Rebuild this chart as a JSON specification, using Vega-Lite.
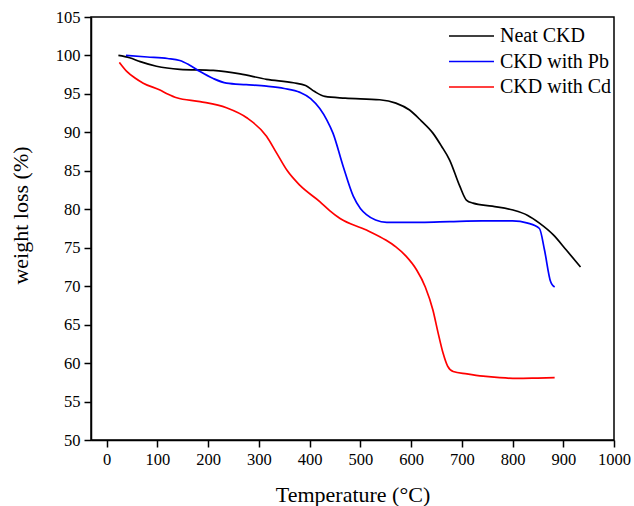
{
  "$schema": "https://vega.github.io/schema/vega-lite/v6.json",
  "width": 523,
  "height": 423,
  "autosize": {"type": "none"},
  "padding": {"left": 91, "top": 17, "right": 20, "bottom": 66},
  "background": "white",
  "config": {
    "font": "Liberation Serif",
    "view": {"stroke": "black", "strokeWidth": 1.5},
    "axis": {
      "grid": false,
      "domainColor": "black",
      "domainWidth": 1.5,
      "tickColor": "black",
      "tickWidth": 1.5,
      "tickSize": 7,
      "labelFont": "Liberation Serif",
      "labelFontSize": 16.5,
      "labelColor": "black",
      "titleFont": "Liberation Serif",
      "titleFontSize": 22,
      "titleFontWeight": "normal",
      "titleColor": "black"
    },
    "legend": {
      "labelFont": "Liberation Serif",
      "labelFontSize": 20,
      "labelColor": "black"
    }
  },
  "data": {
    "values": [
      {"s": "Neat CKD", "t": 23, "w": 100.0},
      {"s": "Neat CKD", "t": 45, "w": 99.7},
      {"s": "Neat CKD", "t": 66, "w": 99.2},
      {"s": "Neat CKD", "t": 98, "w": 98.6},
      {"s": "Neat CKD", "t": 144, "w": 98.2},
      {"s": "Neat CKD", "t": 210, "w": 98.05},
      {"s": "Neat CKD", "t": 263, "w": 97.6},
      {"s": "Neat CKD", "t": 315, "w": 96.9},
      {"s": "Neat CKD", "t": 368, "w": 96.45},
      {"s": "Neat CKD", "t": 392, "w": 96.1},
      {"s": "Neat CKD", "t": 410, "w": 95.3},
      {"s": "Neat CKD", "t": 430, "w": 94.67},
      {"s": "Neat CKD", "t": 470, "w": 94.45},
      {"s": "Neat CKD", "t": 538, "w": 94.24},
      {"s": "Neat CKD", "t": 570, "w": 93.8},
      {"s": "Neat CKD", "t": 597, "w": 92.9},
      {"s": "Neat CKD", "t": 620, "w": 91.5},
      {"s": "Neat CKD", "t": 643, "w": 89.9},
      {"s": "Neat CKD", "t": 660, "w": 88.2},
      {"s": "Neat CKD", "t": 676, "w": 86.4},
      {"s": "Neat CKD", "t": 696, "w": 83.0},
      {"s": "Neat CKD", "t": 709, "w": 81.2},
      {"s": "Neat CKD", "t": 722, "w": 80.8},
      {"s": "Neat CKD", "t": 760, "w": 80.4},
      {"s": "Neat CKD", "t": 801, "w": 79.9},
      {"s": "Neat CKD", "t": 830, "w": 79.2},
      {"s": "Neat CKD", "t": 853, "w": 78.2},
      {"s": "Neat CKD", "t": 880, "w": 76.7},
      {"s": "Neat CKD", "t": 906, "w": 74.7},
      {"s": "Neat CKD", "t": 934, "w": 72.5},
      {"s": "CKD with Pb", "t": 38, "w": 100.0},
      {"s": "CKD with Pb", "t": 80, "w": 99.8},
      {"s": "CKD with Pb", "t": 120, "w": 99.6},
      {"s": "CKD with Pb", "t": 144, "w": 99.35},
      {"s": "CKD with Pb", "t": 162, "w": 98.8},
      {"s": "CKD with Pb", "t": 184, "w": 97.9},
      {"s": "CKD with Pb", "t": 210, "w": 97.0},
      {"s": "CKD with Pb", "t": 236, "w": 96.4},
      {"s": "CKD with Pb", "t": 275, "w": 96.2},
      {"s": "CKD with Pb", "t": 315, "w": 96.0},
      {"s": "CKD with Pb", "t": 350, "w": 95.7},
      {"s": "CKD with Pb", "t": 381, "w": 95.2},
      {"s": "CKD with Pb", "t": 402, "w": 94.4},
      {"s": "CKD with Pb", "t": 420, "w": 93.1},
      {"s": "CKD with Pb", "t": 434, "w": 91.6},
      {"s": "CKD with Pb", "t": 446, "w": 89.9},
      {"s": "CKD with Pb", "t": 466, "w": 85.6},
      {"s": "CKD with Pb", "t": 486, "w": 81.7},
      {"s": "CKD with Pb", "t": 500, "w": 80.1},
      {"s": "CKD with Pb", "t": 512, "w": 79.3},
      {"s": "CKD with Pb", "t": 530, "w": 78.6},
      {"s": "CKD with Pb", "t": 552, "w": 78.3},
      {"s": "CKD with Pb", "t": 620, "w": 78.3},
      {"s": "CKD with Pb", "t": 676, "w": 78.4},
      {"s": "CKD with Pb", "t": 740, "w": 78.5},
      {"s": "CKD with Pb", "t": 800, "w": 78.5},
      {"s": "CKD with Pb", "t": 830, "w": 78.2},
      {"s": "CKD with Pb", "t": 853, "w": 77.5},
      {"s": "CKD with Pb", "t": 863, "w": 74.7},
      {"s": "CKD with Pb", "t": 875, "w": 70.6},
      {"s": "CKD with Pb", "t": 878, "w": 70.2},
      {"s": "CKD with Pb", "t": 883, "w": 69.9},
      {"s": "CKD with Cd", "t": 25, "w": 99.1},
      {"s": "CKD with Cd", "t": 40, "w": 97.9},
      {"s": "CKD with Cd", "t": 55, "w": 97.1},
      {"s": "CKD with Cd", "t": 72, "w": 96.4},
      {"s": "CKD with Cd", "t": 105, "w": 95.5},
      {"s": "CKD with Cd", "t": 120, "w": 95.0},
      {"s": "CKD with Cd", "t": 138, "w": 94.5},
      {"s": "CKD with Cd", "t": 184, "w": 94.0},
      {"s": "CKD with Cd", "t": 236, "w": 93.2},
      {"s": "CKD with Cd", "t": 276, "w": 91.9},
      {"s": "CKD with Cd", "t": 315, "w": 89.5},
      {"s": "CKD with Cd", "t": 335, "w": 87.3},
      {"s": "CKD with Cd", "t": 355, "w": 85.1},
      {"s": "CKD with Cd", "t": 381, "w": 83.1},
      {"s": "CKD with Cd", "t": 420, "w": 81.0},
      {"s": "CKD with Cd", "t": 440, "w": 79.8},
      {"s": "CKD with Cd", "t": 460, "w": 78.8},
      {"s": "CKD with Cd", "t": 512, "w": 77.3},
      {"s": "CKD with Cd", "t": 550, "w": 76.0},
      {"s": "CKD with Cd", "t": 570, "w": 75.1},
      {"s": "CKD with Cd", "t": 590, "w": 73.9},
      {"s": "CKD with Cd", "t": 611, "w": 72.1},
      {"s": "CKD with Cd", "t": 628, "w": 69.9},
      {"s": "CKD with Cd", "t": 643, "w": 66.9},
      {"s": "CKD with Cd", "t": 653, "w": 64.0},
      {"s": "CKD with Cd", "t": 663, "w": 61.3},
      {"s": "CKD with Cd", "t": 672, "w": 59.6},
      {"s": "CKD with Cd", "t": 683, "w": 58.9},
      {"s": "CKD with Cd", "t": 710, "w": 58.6},
      {"s": "CKD with Cd", "t": 742, "w": 58.3},
      {"s": "CKD with Cd", "t": 775, "w": 58.1},
      {"s": "CKD with Cd", "t": 808, "w": 58.0},
      {"s": "CKD with Cd", "t": 850, "w": 58.05},
      {"s": "CKD with Cd", "t": 883, "w": 58.1}
    ]
  },
  "mark": {"type": "line", "interpolate": "monotone", "strokeWidth": 1.7, "clip": true},
  "encoding": {
    "x": {
      "field": "t",
      "type": "quantitative",
      "scale": {"domain": [-31, 1000], "nice": false, "zero": false},
      "axis": {
        "values": [0, 100, 200, 300, 400, 500, 600, 700, 800, 900, 1000],
        "format": "d",
        "labelPadding": 4,
        "title": "Temperature (°C)",
        "titleY": 54,
        "titleBaseline": "middle",
        "labelFlush": false
      }
    },
    "y": {
      "field": "w",
      "type": "quantitative",
      "scale": {"domain": [50, 105], "nice": false, "zero": false},
      "axis": {
        "values": [50, 55, 60, 65, 70, 75, 80, 85, 90, 95, 100, 105],
        "labelPadding": 4,
        "title": "weight loss (%)",
        "titleX": -71,
        "titleY": 198,
        "titleBaseline": "middle",
        "titleAngle": 270,
        "labelFlush": false
      }
    },
    "color": {
      "field": "s",
      "type": "nominal",
      "scale": {
        "domain": ["Neat CKD", "CKD with Pb", "CKD with Cd"],
        "range": ["#000000", "#0000ff", "#ff0000"]
      },
      "legend": {
        "title": null,
        "orient": "none",
        "legendX": 368,
        "legendY": 6.5,
        "padding": 0,
        "symbolType": "M-2,0L2,0",
        "symbolSize": 506,
        "symbolStrokeWidth": 1.7,
        "labelOffset": 16,
        "rowPadding": 2.5
      }
    }
  }
}
